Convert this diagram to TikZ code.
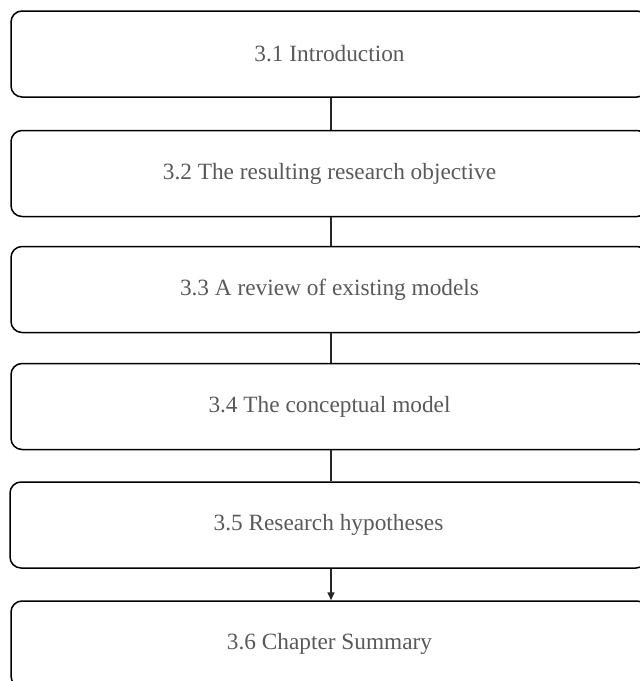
\documentclass[tikz,border=0pt]{standalone}
\usepackage{fontspec}
\setmainfont{Liberation Serif}
\usetikzlibrary{arrows.meta}
\definecolor{labelgray}{HTML}{595959}
\begin{document}
\begin{tikzpicture}[x=1pt,y=1pt,
  sectionbox/.style={draw=black, line width=1.5pt, rounded corners=11pt,
    minimum width=637pt, minimum height=86pt, inner sep=0pt,
    text=labelgray, font=\fontsize{23.3}{28}\selectfont},
  link/.style={draw=black!85, line width=1.6pt}]
  \useasboundingbox (0,0) rectangle (640,-681);
  % chapter sections, top to bottom
  \node[sectionbox] (s1) at (329.5,-54)    {3.1 Introduction};
  \node[sectionbox] (s2) at (329.5,-173.5) {3.2 The resulting research objective};
  \node[sectionbox] (s3) at (329.5,-289.5) {3.3 A review of existing models};
  \node[sectionbox] (s4) at (329.5,-406.5) {3.4 The conceptual model};
  \node[sectionbox] (s5) at (328.5,-525)   {3.5 Research hypotheses};
  \node[sectionbox] (s6) at (329.5,-644)   {3.6 Chapter Summary};
  % vertical links between consecutive sections
  \draw[link] ([xshift=1.5pt]s1.south) -- ([xshift=1.5pt]s1.south |- s2.north);
  \draw[link] ([xshift=1.5pt]s2.south) -- ([xshift=1.5pt]s2.south |- s3.north);
  \draw[link] ([xshift=1.5pt]s3.south) -- ([xshift=1.5pt]s3.south |- s4.north);
  \draw[link] ([xshift=1.5pt]s4.south) -- ([xshift=1.5pt]s4.south |- s5.north);
  \draw[link, -{Triangle[length=8pt,width=7pt]}]
    ([xshift=2.5pt]s5.south) -- ([xshift=2.5pt]s5.south |- s6.north);
\end{tikzpicture}
\end{document}
